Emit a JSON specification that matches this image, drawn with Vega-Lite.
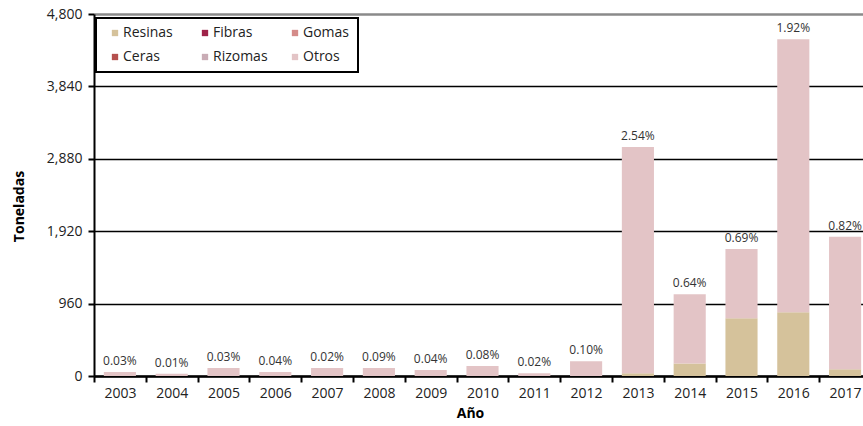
{
  "$schema": "https://vega.github.io/schema/vega-lite/v6.json",
  "autosize": "none",
  "width": 769,
  "height": 362,
  "padding": {"left": 94, "top": 14, "right": 0, "bottom": 50},
  "background": "white",
  "config": {
    "font": "Open Sans",
    "view": {"stroke": null},
    "axis": {"labelColor": "#222", "titleColor": "#000"}
  },
  "datasets": {
    "lab": [
      {"year": "2003", "pct": "0.03%"},
      {"year": "2004", "pct": "0.01%"},
      {"year": "2005", "pct": "0.03%"},
      {"year": "2006", "pct": "0.04%"},
      {"year": "2007", "pct": "0.02%"},
      {"year": "2008", "pct": "0.09%"},
      {"year": "2009", "pct": "0.04%"},
      {"year": "2010", "pct": "0.08%"},
      {"year": "2011", "pct": "0.02%"},
      {"year": "2012", "pct": "0.10%"},
      {"year": "2013", "pct": "2.54%"},
      {"year": "2014", "pct": "0.64%"},
      {"year": "2015", "pct": "0.69%"},
      {"year": "2016", "pct": "1.92%"},
      {"year": "2017", "pct": "0.82%"}
    ]
  },
  "data": {
    "values": [
      {"year": "2003", "tipo": "Otros", "value": 53},
      {"year": "2004", "tipo": "Otros", "value": 30},
      {"year": "2005", "tipo": "Otros", "value": 106},
      {"year": "2006", "tipo": "Otros", "value": 53},
      {"year": "2007", "tipo": "Otros", "value": 106},
      {"year": "2008", "tipo": "Otros", "value": 106},
      {"year": "2009", "tipo": "Otros", "value": 80},
      {"year": "2010", "tipo": "Otros", "value": 133},
      {"year": "2011", "tipo": "Otros", "value": 35},
      {"year": "2012", "tipo": "Otros", "value": 195},
      {"year": "2013", "tipo": "Resinas", "value": 35},
      {"year": "2013", "tipo": "Otros", "value": 3000},
      {"year": "2014", "tipo": "Resinas", "value": 165},
      {"year": "2014", "tipo": "Otros", "value": 920},
      {"year": "2015", "tipo": "Resinas", "value": 765},
      {"year": "2015", "tipo": "Otros", "value": 920},
      {"year": "2016", "tipo": "Resinas", "value": 845},
      {"year": "2016", "tipo": "Otros", "value": 3620},
      {"year": "2017", "tipo": "Resinas", "value": 88},
      {"year": "2017", "tipo": "Otros", "value": 1760}
    ]
  },
  "encoding": {
    "x": {
      "field": "year",
      "type": "nominal",
      "scale": {"range": [0, 777], "paddingInner": 0, "paddingOuter": 0},
      "axis": {
        "title": "Año",
        "titleFontSize": 14,
        "titleFontWeight": "bold",
        "titleX": 376,
        "titlePadding": 6,
        "labelAngle": 0,
        "labelFontSize": 14,
        "labelPadding": 4,
        "tickBand": "extent",
        "tickColor": "black",
        "tickWidth": 2,
        "tickSize": 6,
        "domainColor": "black",
        "domainWidth": 2.5,
        "grid": false
      }
    }
  },
  "layer": [
    {
      "mark": {"type": "bar", "width": {"band": 0.62}, "clip": true},
      "encoding": {
        "y": {
          "field": "value",
          "type": "quantitative",
          "aggregate": "sum",
          "stack": "zero",
          "scale": {"domain": [0, 4800], "nice": false},
          "axis": {
            "title": "Toneladas",
            "titleFontSize": 14,
            "titleFontWeight": "bold",
            "titlePadding": 20,
            "titleY": 192,
            "values": [0, 960, 1920, 2880, 3840, 4800],
            "format": ",d",
            "labelFontSize": 14,
            "labelPadding": 6,
            "tickColor": "black",
            "tickWidth": 2,
            "tickSize": 6,
            "domainColor": "black",
            "domainWidth": 2,
            "grid": true,
            "gridColor": {"condition": {"test": "datum.value == 4800", "value": "#8a8a8a"}, "value": "black"},
            "gridWidth": {"condition": {"test": "datum.value == 4800", "value": 2.5}, "value": 1.5}
          }
        },
        "color": {
          "field": "tipo",
          "type": "nominal",
          "sort": ["Resinas", "Fibras", "Gomas", "Ceras", "Rizomas", "Otros"],
          "scale": {
            "domain": ["Resinas", "Fibras", "Gomas", "Ceras", "Rizomas", "Otros"],
            "range": ["#D5C29B", "#9E2349", "#D48B89", "#B5504E", "#C9ACB5", "#E3C4C6"]
          },
          "legend": {
            "title": null,
            "orient": "none",
            "legendX": 2,
            "legendY": 4,
            "direction": "horizontal",
            "columns": 3,
            "gridAlign": "all",
            "columnPadding": 16,
            "rowPadding": 10,
            "padding": 8,
            "symbolOffset": 4,
            "symbolType": "square",
            "symbolSize": 40,
            "symbolStrokeWidth": 0,
            "labelFontSize": 14,
            "labelColor": "#222",
            "labelOffset": 1,
            "strokeColor": "black",
            "fillColor": "white",
            "encode": {"legend": {"update": {"strokeWidth": {"value": 2}}}}
          }
        }
      }
    },
    {
      "transform": [
        {"aggregate": [{"op": "sum", "field": "value", "as": "total"}], "groupby": ["year"]},
        {"lookup": "year", "from": {"data": {"name": "lab"}, "key": "year", "fields": ["pct"]}}
      ],
      "mark": {"type": "text", "baseline": "bottom", "dy": -4, "fontSize": 12, "color": "#333"},
      "encoding": {
        "y": {"field": "total", "type": "quantitative"},
        "text": {"field": "pct", "type": "nominal"}
      }
    }
  ]
}
